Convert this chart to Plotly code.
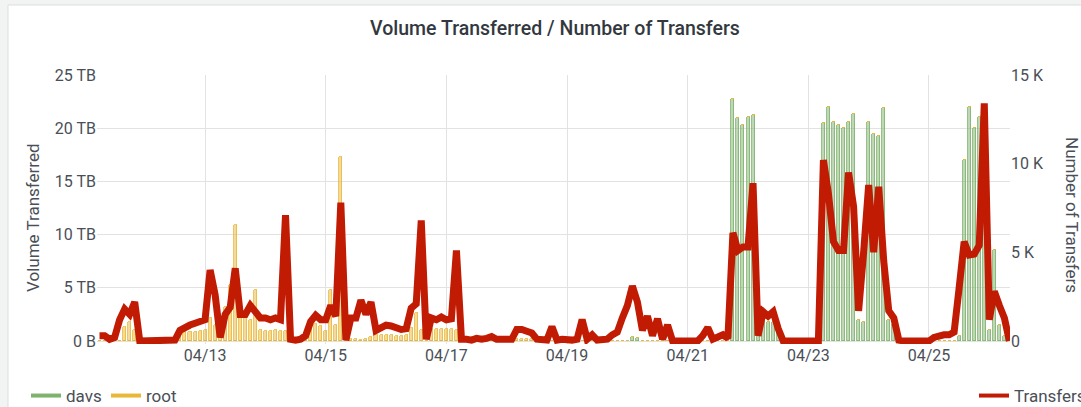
import plotly.graph_objects as go
import pandas as pd

# ---------------- data (2-hour samples, starting 04/11 06:00) ----------------
START = "2024-04-11 06:00"
STEP = "2h"

# Number of transfers, in thousands
transfers_k = [
    # 04/11 06..22
    0.3, 0.3, 0.1, 0.2, 1.2, 1.8, 1.5, 2.2, 0.0,
    # 04/12
    0.0, 0.0, 0.0, 0.0, 0.0, 0.0, 0.05, 0.6, 0.8, 0.9, 1.0, 1.1,
    # 04/13
    1.2, 4.0, 2.6, 0.2, 1.5, 1.9, 4.1, 1.5, 1.5, 2.0, 1.6, 1.3,
    # 04/14
    1.3, 1.2, 1.3, 1.2, 7.1, 0.1, 0.05, 0.1, 0.3, 1.1, 1.45, 1.2,
    # 04/15
    1.2, 2.0, 1.4, 7.8, 0.05, 1.3, 1.3, 2.3, 1.5, 2.2, 0.6, 0.8,
    # 04/16
    0.9, 0.85, 0.75, 0.65, 0.7, 1.85, 2.1, 6.8, 0.1, 1.3, 1.2, 1.35,
    # 04/17
    1.2, 1.25, 5.1, 0.1, 0.1, 0.05, 0.15, 0.1, 0.15, 0.25, 0.1, 0.1,
    # 04/18
    0.1, 0.1, 0.65, 0.65, 0.55, 0.45, 0.1, 0.05, 0.05, 0.8, 0.05, 0.1,
    # 04/19
    0.05, 0.05, 0.1, 1.2, 0.1, 0.35, 0.05, 0.05, 0.1, 0.35, 0.5, 1.3,
    # 04/20
    2.0, 3.1, 2.2, 0.6, 1.4, 0.3, 1.25, 0.1, 0.9, 0.0, 0.0, 0.0,
    # 04/21
    0.0, 0.0, 0.0, 0.3, 0.75, 0.1, 0.2, 0.35, 0.15, 6.1, 5.1, 5.3,
    # 04/22
    5.3, 8.9, 0.3, 1.65, 1.4, 1.65, 0.7, 0.0, 0.0, 0.0, 0.0, 0.0,
    # 04/23
    0.0, 0.0, 0.0, 10.2, 8.3, 5.6, 5.1, 5.1, 9.5, 7.6, 1.7, 5.0,
    # 04/24
    8.8, 5.0, 8.7, 4.5, 1.7, 1.3, 0.05, 0.0, 0.0, 0.0, 0.0, 0.0,
    # 04/25
    0.0, 0.2, 0.3, 0.35, 0.35, 0.5, 3.0, 5.6, 4.85, 4.9, 5.4, 13.4,
    # 04/26 00..08
    1.2, 2.8, 2.0, 1.3, 0.0,
]

# Volume transferred through davs, in TB
davs_tb = [
    # 04/11
    0, 0, 0, 0, 0, 0, 0, 0, 0,
    # 04/12
    0, 0, 0, 0, 0, 0, 0, 0, 0, 0, 0, 0,
    # 04/13
    0, 0, 0, 0, 0, 0, 0, 0, 0, 0, 0, 0,
    # 04/14
    0, 0, 0, 0, 0, 0, 0, 0, 0, 0, 0, 0,
    # 04/15
    0, 0, 0, 0, 0, 0, 0, 0, 0, 0, 0, 0,
    # 04/16
    0, 0, 0, 0, 0, 0, 0, 0, 0, 0, 0, 0,
    # 04/17
    0, 0, 0, 0, 0, 0, 0, 0, 0, 0, 0, 0,
    # 04/18
    0, 0, 0, 0, 0, 0, 0, 0, 0, 0, 0, 0,
    # 04/19
    0, 0, 0, 0, 0, 0, 0, 0, 0, 0, 0, 0,
    # 04/20
    0, 0.4, 0.3, 0, 0, 0, 0, 0, 0, 0, 0, 0,
    # 04/21
    0, 0, 0, 0, 0, 0, 0, 0, 0, 22.7, 21.0, 20.3,
    # 04/22
    21.1, 21.2, 1.0, 2.0, 1.8, 1.8, 1.0, 0, 0, 0, 0, 0,
    # 04/23
    0, 0, 0, 20.5, 22.0, 20.6, 20.3, 20.0, 20.6, 21.3, 2.0, 1.8,
    # 04/24
    20.6, 19.5, 19.3, 21.9, 2.0, 1.6, 0, 0, 0, 0, 0, 0,
    # 04/25
    0, 0, 0, 0, 0, 0, 0.5, 17.0, 22.0, 20.0, 21.1, 18.0,
    # 04/26
    1.0, 8.6, 1.5, 0.5, 0,
]

# Volume transferred through root, in TB
root_tb = [
    # 04/11
    0, 0, 0, 0, 0, 1.3, 1.8, 1.0, 0,
    # 04/12
    0, 0, 0, 0, 0, 0, 0, 0.6, 0.8, 0.8, 0.8, 0.9,
    # 04/13
    1.0, 2.2, 1.5, 0.6, 3.2, 5.3, 10.9, 2.5, 2.2, 2.0, 4.8, 1.0,
    # 04/14
    0.9, 0.9, 1.0, 0.9, 0.9, 0, 0, 0, 0.5, 1.5, 1.6, 1.4,
    # 04/15
    0.9, 4.8, 1.5, 17.3, 0, 0.15, 0.15, 0.1, 0.15, 0.4, 0.55, 0.55,
    # 04/16
    0.55, 0.55, 0.5, 0.5, 0.6, 1.2, 2.6, 1.0, 0, 1.1, 1.1, 1.1,
    # 04/17
    1.1, 1.1, 1.0, 0, 0, 0, 0, 0, 0, 0, 0, 0,
    # 04/18
    0, 0, 0.15, 0.2, 0.2, 0.15, 0, 0, 0, 0, 0, 0,
    # 04/19
    0, 0, 0, 0, 0, 0, 0, 0, 0, 0, 0, 0,
    # 04/20
    0, 0, 0, 0, 0, 0, 0, 0, 0, 0, 0, 0,
    # 04/21
    0, 0, 0, 0, 0, 0, 0, 0, 0, 0, 0, 0,
    # 04/22
    0, 0, 0, 0, 0, 0, 0, 0, 0, 0, 0, 0,
    # 04/23
    0, 0, 0, 0, 0, 0, 0, 0, 0, 0, 0, 0,
    # 04/24
    0, 0, 0, 0, 0, 0, 0, 0, 0, 0, 0, 0,
    # 04/25
    0, 0, 0, 0, 0, 0, 0, 0, 0, 0, 0, 0,
    # 04/26
    0, 0, 0, 0, 0,
]

x_tick_dates = ["2024-04-13", "2024-04-15", "2024-04-17", "2024-04-19",
                "2024-04-21", "2024-04-23", "2024-04-25"]
x_view = ["2024-04-11 05:00", "2024-04-26 08:14"]

vol_tick_vals = [0, 5, 10, 15, 20, 25]
vol_tick_text = ["0 B", "5 TB", "10 TB", "15 TB", "20 TB", "25 TB"]
cnt_tick_vals = [0, 5, 10, 15]
cnt_tick_text = ["0", "5 K", "10 K", "15 K"]

assert len(transfers_k) == len(davs_tb) == len(root_tb)
times = pd.date_range(START, periods=len(transfers_k), freq=STEP)

# ---------------- styling ----------------
GREEN = "#7EB26D"
YELLOW = "#EAB839"
RED = "#C11B04"
TXT = "#4a4f57"
GRID = "#e2e2e2"
FONT = "Roboto"

W, H = 1081, 407
L, R, T, B = 97, 1010, 75, 344
pw, ph = R - L, B - T

def px(xp):
    return (xp - L) / pw

def py(yp):
    return (B - yp) / ph

BAR_W = 1.2 * 3600 * 1000

fig = go.Figure()
fig.add_trace(go.Bar(x=times, y=davs_tb, width=BAR_W, name="davs", showlegend=False,
                     marker=dict(color="rgba(126,178,109,0.5)", line=dict(color=GREEN, width=0.8))))
fig.add_trace(go.Bar(x=times, y=root_tb, width=BAR_W, name="root", showlegend=False,
                     marker=dict(color="rgba(234,184,57,0.5)", line=dict(color=YELLOW, width=0.8))))
fig.add_trace(go.Scatter(x=times, y=transfers_k, name="Transfers", yaxis="y2", mode="lines",
                         line=dict(color=RED, width=7), showlegend=False))

# legend entries
fig.add_trace(go.Scatter(x=[None], y=[None], mode="lines", name="davs",
                         line=dict(color=GREEN, width=4), legend="legend"))
fig.add_trace(go.Scatter(x=[None], y=[None], mode="lines", name="root",
                         line=dict(color=YELLOW, width=4), legend="legend"))
fig.add_trace(go.Scatter(x=[None], y=[None], mode="lines", name="Transfers", yaxis="y2",
                         line=dict(color=RED, width=4), legend="legend2"))

TICKF = dict(family=FONT, size=16, color=TXT)

fig.update_layout(
    width=W, height=H,
    margin=dict(l=L, r=W - R, t=T, b=H - B, pad=0, autoexpand=False),
    paper_bgcolor="#f2f3f3",
    plot_bgcolor="rgba(0,0,0,0)",
    barmode="stack",
    bargap=0,
    font=dict(family=FONT, size=16, color=TXT),
    title=dict(text="Volume Transferred / Number of Transfers", xref="container",
               x=555 / W, xanchor="center", yref="container", y=1 - 28 / H, yanchor="middle",
               font=dict(family=FONT, size=19.5, color="#333840", weight=500)),
    xaxis=dict(type="date", range=x_view, tickvals=x_tick_dates, tickformat="%m/%d",
               showgrid=True, gridcolor=GRID, gridwidth=1, zeroline=False, showline=False,
               ticks="", tickfont=TICKF),
    yaxis=dict(range=[-3 / (ph - 3) * 25, 25], tickvals=vol_tick_vals, ticktext=vol_tick_text,
               showgrid=True, gridcolor=GRID, zeroline=False, showline=False, ticks="",
               tickfont=TICKF),
    yaxis2=dict(overlaying="y", side="right", range=[-3 / (ph - 3) * 15, 15],
                tickvals=cnt_tick_vals, ticktext=cnt_tick_text, showgrid=False,
                zeroline=False, showline=False, ticks="", tickfont=TICKF),
    legend=dict(orientation="h", x=px(26), xanchor="left", y=py(396), yanchor="middle",
                bgcolor="rgba(0,0,0,0)", font=dict(size=17, color=TXT), entrywidth=35,
                traceorder="normal"),
    legend2=dict(orientation="h", x=px(974), xanchor="left", y=py(396), yanchor="middle",
                 bgcolor="rgba(0,0,0,0)", font=dict(size=17, color=TXT)),
    shapes=[dict(type="rect", xref="paper", yref="paper", x0=px(8), x1=px(1095),
                 y0=py(430), y1=py(5), fillcolor="white", line=dict(color="#dcdde0", width=1),
                 layer="below")],
    annotations=[
        dict(text="Volume Transferred", xref="paper", yref="paper", x=px(33), y=py(218),
             textangle=-90, showarrow=False, xanchor="center", yanchor="middle",
             font=dict(size=17, color=TXT)),
        dict(text="Number of Transfers", xref="paper", yref="paper", x=px(1072), y=py(215),
             textangle=90, showarrow=False, xanchor="center", yanchor="middle",
             font=dict(size=17, color=TXT)),
    ],
)

fig.write_html(
    "out.html",
    config={"displayModeBar": False},
    post_script="document.body.style.margin='0';document.body.style.overflow='hidden';",
)
